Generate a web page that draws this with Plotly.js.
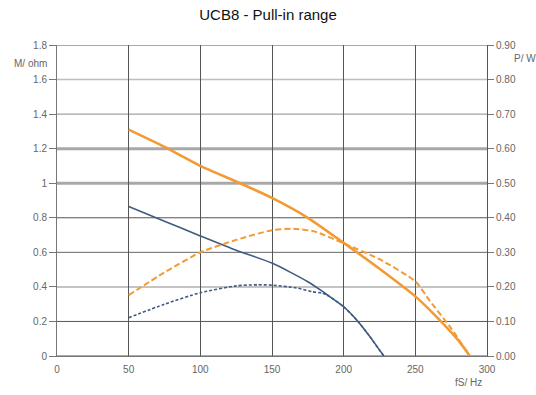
<!DOCTYPE html>
<html>
<head>
<meta charset="utf-8">
<script src="https://cdn.plot.ly/plotly-3.0.1.min.js"></script>
<style>html,body{margin:0;padding:0;background:#fff;}#chart{width:536px;height:395px;}</style>
</head>
<body>
<div id="chart"></div>
<script>
// Pull-in torque M (left axis) — orange solid
const freqMOrange = [50, 75, 100, 125, 150, 175, 200, 225, 250, 265, 280, 288];
const torqueOrange = [1.31, 1.21, 1.10, 1.01, 0.915, 0.80, 0.655, 0.505, 0.345, 0.225, 0.09, 0];
// Power P (right axis) — orange dashed
const freqPOrange = [50, 75, 100, 125, 150, 165, 180, 200, 225, 250, 260, 275, 288];
const powerOrange = [0.176, 0.242, 0.30, 0.336, 0.364, 0.368, 0.36, 0.326, 0.28, 0.216, 0.16, 0.08, 0];
// Pull-in torque M (left axis) — blue solid
const freqMBlue = [50, 75, 100, 125, 150, 175, 185, 190, 200, 210, 218, 228];
const torqueBlue = [0.865, 0.78, 0.695, 0.612, 0.538, 0.43, 0.375, 0.345, 0.285, 0.20, 0.115, 0];
// Power P (right axis) — blue dashed
const freqPBlue = [50, 75, 100, 125, 140, 150, 167, 178, 185, 190, 200, 210, 218, 228];
const powerBlue = [0.111, 0.15, 0.183, 0.203, 0.206, 0.205, 0.197, 0.186, 0.182, 0.1725, 0.1425, 0.10, 0.0575, 0];

const leftTicks = [0, 0.2, 0.4, 0.6, 0.8, 1, 1.2, 1.4, 1.6, 1.8];
const leftTickText = ["0", "0.2", "0.4", "0.6", "0.8", "1", "1.2", "1.4", "1.6", "1.8"];
const rightTicks = [0, 0.1, 0.2, 0.3, 0.4, 0.5, 0.6, 0.7, 0.8, 0.9];
const rightTickText = ["0.00", "0.10", "0.20", "0.30", "0.40", "0.50", "0.60", "0.70", "0.80", "0.90"];
const xTicks = [0, 50, 100, 150, 200, 250, 300];

const ORANGE = '#F29A34';
const BLUE = '#3E5B82';

const traces = [
  {x: freqPBlue, y: powerBlue, yaxis: 'y2', mode: 'lines', line: {color: BLUE, width: 1.6, dash: '3px,2px', shape: 'spline', smoothing: 0.6}, hoverinfo: 'skip'},
  {x: freqMBlue, y: torqueBlue, mode: 'lines', line: {color: BLUE, width: 1.6, shape: 'spline', smoothing: 0.6}, hoverinfo: 'skip'},
  {x: freqPOrange, y: powerOrange, yaxis: 'y2', mode: 'lines', line: {color: ORANGE, width: 2, dash: '6px,3px', shape: 'spline', smoothing: 0.6}, hoverinfo: 'skip'},
  {x: freqMOrange, y: torqueOrange, mode: 'lines', line: {color: ORANGE, width: 2.6, shape: 'spline', smoothing: 0.6}, hoverinfo: 'skip'}
];

const font = "'Liberation Sans', Arial, sans-serif";

// horizontal rules: the reference draws them with varying weight / grey
const ruleStyle = {
  0: {color: '#555', width: 1},
  0.2: {color: '#555', width: 1},
  0.4: {color: '#c4c4c4', width: 2},
  0.6: {color: '#666', width: 1},
  0.8: {color: '#555', width: 1},
  1: {color: '#a8a8a8', width: 3},
  1.2: {color: '#a8a8a8', width: 3},
  1.4: {color: '#8a8a8a', width: 1},
  1.6: {color: '#bdbdbd', width: 1.5},
  1.8: {color: '#555', width: 1}
};
const shapes = leftTicks.map(v => ({
  type: 'line', xref: 'paper', yref: 'y', x0: 0, x1: 1, y0: v, y1: v,
  line: ruleStyle[v], layer: 'below'
}));

const layout = {
  width: 536, height: 395,
  margin: {l: 57, r: 49, t: 45, b: 39, pad: 0},
  paper_bgcolor: '#fff', plot_bgcolor: '#fff',
  showlegend: false,
  title: {text: 'UCB8 - Pull-in range', font: {family: font, size: 15, color: '#111'}, x: 0.5, xanchor: 'center', y: 0.975, yanchor: 'top'},
  xaxis: {
    range: [0, 300], tickvals: xTicks, ticktext: xTicks.map(String),
    showgrid: true, gridcolor: '#555', gridwidth: 1,
    zeroline: false, showline: true, linecolor: '#777', linewidth: 1, mirror: false,
    ticks: '', ticklabelstandoff: 4,
    tickfont: {family: font, size: 10, color: '#666'}, fixedrange: true
  },
  yaxis: {
    range: [0, 1.8], tickvals: leftTicks, ticktext: leftTickText,
    showgrid: false,
    zeroline: false, showline: true, linecolor: '#777', linewidth: 1,
    ticks: 'outside', ticklen: 7, tickcolor: '#777', tickwidth: 1,
    tickfont: {family: font, size: 10, color: '#666'}, fixedrange: true
  },
  yaxis2: {
    range: [0, 0.9], tickvals: rightTicks, ticktext: rightTickText,
    overlaying: 'y', side: 'right', showgrid: false,
    zeroline: false, showline: true, linecolor: '#555', linewidth: 1,
    ticks: 'outside', ticklen: 6, tickcolor: '#777', tickwidth: 1,
    tickfont: {family: font, size: 10, color: '#666'}, fixedrange: true
  },
  shapes: shapes,
  annotations: [
    {text: 'M/ ohm', xref: 'paper', yref: 'paper', x: -0.105, y: 0.94, xanchor: 'left', yanchor: 'middle', showarrow: false, font: {family: font, size: 10, color: '#666'}},
    {text: 'P/ W', xref: 'paper', yref: 'paper', x: 1.057, y: 0.955, xanchor: 'left', yanchor: 'middle', showarrow: false, font: {family: font, size: 10, color: '#666'}},
    {text: 'fS/ Hz', xref: 'paper', yref: 'paper', x: 0.922, y: -0.085, xanchor: 'left', yanchor: 'middle', showarrow: false, font: {family: font, size: 10, color: '#666'}}
  ]
};

Plotly.newPlot('chart', traces, layout, {displayModeBar: false, staticPlot: true});
</script>
</body>
</html>
